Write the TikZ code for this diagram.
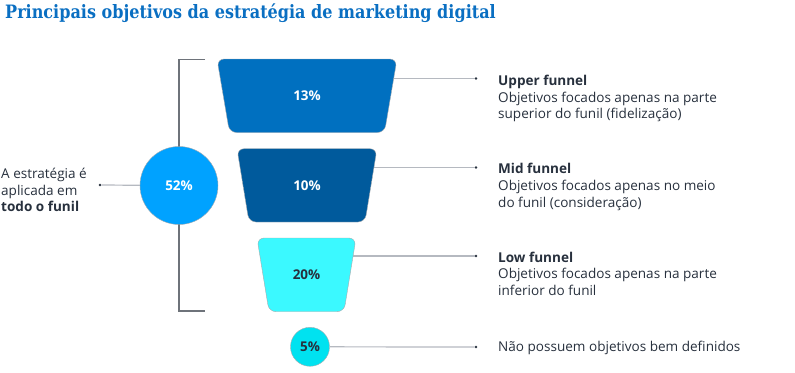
\documentclass[tikz,border=0pt]{standalone}
\usepackage{fontspec}
\setmainfont{Open Sans}
\newfontfamily\titlefont[FakeStretch=0.87]{DejaVu Serif}
\usetikzlibrary{calc}
\definecolor{titleblue}{HTML}{0A6FC2}
\definecolor{txt}{HTML}{27303D}
\definecolor{fone}{HTML}{0070C0}
\definecolor{ftwo}{HTML}{005A9C}
\definecolor{fthree}{HTML}{3BF9FF}
\definecolor{cbig}{HTML}{00A2FF}
\definecolor{csmall}{HTML}{00E2F0}
\definecolor{brk}{HTML}{6E737A}
\definecolor{conn}{HTML}{B5B9C0}
\tikzset{
  funnel/.style={rounded corners=7bp, draw=brk!60, line width=0.4bp},
  flabel/.style={inner sep=0, font=\fontsize{13.5}{15}\selectfont\bfseries},
  pct/.style={circle, draw=brk!60, line width=0.4bp, inner sep=0,
    font=\fontsize{13.5}{15}\selectfont\bfseries},
  dotnode/.style={circle, fill=txt, inner sep=0, minimum size=2.6bp},
  conline/.style={draw=conn, line width=1.2bp},
  brline/.style={draw=brk, line width=1.2bp},
  rt/.style={anchor=base west, inner sep=0, text=txt, font=\fontsize{13.6}{16}\selectfont},
  rtb/.style={rt, font=\fontsize{13.6}{16}\selectfont\bfseries},
}
\begin{document}
\begin{tikzpicture}[x=1bp,y=-1bp]
\useasboundingbox (0,0) rectangle (795,372);
% title
\node[anchor=base west, inner sep=0, text=titleblue, font=\titlefont\fontsize{18.5}{22}\selectfont\bfseries] (title) at (5,18.7) {Principais objetivos da estratégia de marketing digital};

% coordinates
\coordinate (bt) at (205,59.5);
\coordinate (bb) at (205,311);
\coordinate (f1c) at (307,95.5);
\coordinate (f2c) at (307,185.4);
\coordinate (f3c) at (306.5,274.8);

% dots
\node[dotnode] (dl) at (100,185) {};
\node[dotnode] (d1) at (476,78.5) {};
\node[dotnode] (d2) at (476,167.5) {};
\node[dotnode] (d3) at (476,256) {};
\node[dotnode] (d4) at (476,347) {};

% bracket
\draw[brline] (bt) -- (bt -| 179,0) -- (bb -| 179,0) -- (bb);

% connectors behind shapes
\draw[conline] (d1) -- (d1 -| f1c);
\draw[conline] (d2) -- (d2 -| f2c);
\draw[conline] (d3) -- (d3 -| f3c);

% funnels
\path[funnel, fill=fone] (217,59) -- (397,59) -- (384.5,132.5) -- (229.5,132.5) -- cycle;
\path[funnel, fill=ftwo] (237,148.7) -- (377,148.7) -- (365,222) -- (249,222) -- cycle;
\path[funnel, fill=fthree] (257,238) -- (356,238) -- (344,311.7) -- (269,311.7) -- cycle;
\node[flabel, text=white] (f1) at (f1c) {13\%};
\node[flabel, text=white] (f2) at (f2c) {10\%};
\node[flabel, text=txt] (f3) at (f3c) {20\%};

% circles
\node[pct, fill=cbig, text=white, minimum size=78bp] (c52) at (179,185.5) {52\%};
\node[pct, fill=csmall, text=txt, minimum size=39bp] (c5) at (310,346.8) {5\%};
\draw[conline] (dl) -- (c52);
\draw[conline] (c5) -- (d4);

% left text
\node[rt] (l1) at (1,178.5) {A estratégia é};
\node[rt] (l2) at (1,195) {aplicada em};
\node[rtb] (l3) at (1,211.5) {todo o funil};

% right texts
\node[rtb] (u1) at (498,85.3) {Upper funnel};
\node[rt] (u2) at (498,102) {Objetivos focados apenas na parte};
\node[rt] (u3) at (498,118.7) {superior do funil (fidelização)};
\node[rtb] (m1) at (498,173.6) {Mid funnel};
\node[rt] (m2) at (498,190.3) {Objetivos focados apenas no meio};
\node[rt] (m3) at (498,207) {do funil (consideração)};
\node[rtb] (w1) at (498,262) {Low funnel};
\node[rt] (w2) at (498,278.7) {Objetivos focados apenas na parte};
\node[rt] (w3) at (498,295.4) {inferior do funil};
\node[rt] (n1) at (498,351.5) {Não possuem objetivos bem definidos};
\end{tikzpicture}
\end{document}
